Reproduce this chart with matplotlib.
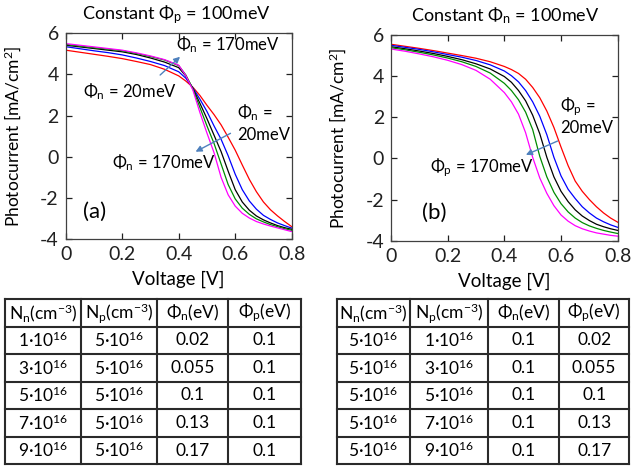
import matplotlib
matplotlib.use("Agg")
import matplotlib.pyplot as plt
from matplotlib.ticker import FuncFormatter

plt.rcParams['font.family'] = ['Lato', 'DejaVu Sans']
plt.rcParams['mathtext.fontset'] = 'custom'
plt.rcParams['mathtext.rm'] = 'Lato'
plt.rcParams['mathtext.it'] = 'Lato:italic'
plt.rcParams['mathtext.bf'] = 'Lato:bold'
plt.rcParams['axes.unicode_minus'] = False

# ---- data -------------------------------------------------------------
voltage = [0, 0.05, 0.1, 0.15, 0.2, 0.25, 0.3, 0.35, 0.4, 0.425, 0.45, 0.475,
           0.5, 0.525, 0.55, 0.575, 0.6, 0.625, 0.65, 0.675, 0.7, 0.725, 0.75,
           0.775, 0.8]

# (a) constant Phi_p = 100 meV, Phi_n varied
a_phin_20 = [5.18, 5.08, 4.98, 4.88, 4.77, 4.63, 4.48, 4.25, 3.93, 3.68, 3.38, 2.98,
             2.50, 2.05, 1.55, 0.95, 0.32, -0.40, -1.10, -1.70, -2.20, -2.58, -2.88,
             -3.15, -3.40]
a_phin_55 = [5.35, 5.25, 5.15, 5.06, 4.95, 4.80, 4.63, 4.43, 4.13, 3.82, 3.35, 2.80,
             2.20, 1.50, 0.85, 0.05, -0.85, -1.60, -2.15, -2.55, -2.85, -3.05, -3.22,
             -3.35, -3.47]
a_phin_100 = [5.42, 5.34, 5.26, 5.18, 5.10, 4.97, 4.80, 4.60, 4.33, 3.93, 3.32, 2.60,
              1.85, 1.05, 0.25, -0.70, -1.60, -2.20, -2.60, -2.88, -3.07, -3.22, -3.35,
              -3.45, -3.53]
a_phin_130 = [5.46, 5.38, 5.30, 5.23, 5.15, 5.02, 4.87, 4.70, 4.43, 3.98, 3.30, 2.40,
              1.50, 0.65, -0.35, -1.35, -2.05, -2.50, -2.80, -3.02, -3.17, -3.30, -3.40,
              -3.50, -3.58]
a_phin_170 = [5.50, 5.42, 5.34, 5.26, 5.18, 5.05, 4.90, 4.72, 4.45, 3.95, 3.25, 2.15,
              1.15, 0.20, -1.00, -1.85, -2.40, -2.75, -2.98, -3.15, -3.27, -3.37, -3.46,
              -3.55, -3.64]

# (b) constant Phi_n = 100 meV, Phi_p varied
b_phip_20 = [5.55, 5.45, 5.35, 5.24, 5.12, 5.00, 4.87, 4.70, 4.47, 4.32, 4.13, 3.85,
             3.45, 2.95, 2.30, 1.50, 0.55, -0.35, -1.10, -1.60, -2.00, -2.35, -2.65,
             -2.90, -3.10]
b_phip_55 = [5.50, 5.40, 5.30, 5.18, 5.05, 4.92, 4.76, 4.55, 4.25, 4.02, 3.72, 3.30,
             2.75, 2.05, 1.15, 0.05, -0.85, -1.50, -1.95, -2.35, -2.65, -2.90, -3.08,
             -3.23, -3.35]
b_phip_100 = [5.43, 5.33, 5.22, 5.10, 4.96, 4.80, 4.60, 4.35, 3.98, 3.70, 3.30, 2.80,
              2.10, 1.20, 0.05, -0.90, -1.60, -2.10, -2.50, -2.80, -3.02, -3.20, -3.32,
              -3.42, -3.50]
b_phip_130 = [5.38, 5.28, 5.16, 5.03, 4.88, 4.70, 4.47, 4.15, 3.65, 3.30, 2.85, 2.25,
              1.40, 0.10, -0.90, -1.65, -2.20, -2.60, -2.90, -3.12, -3.28, -3.40, -3.50,
              -3.58, -3.65]
b_phip_170 = [5.32, 5.21, 5.08, 4.94, 4.77, 4.56, 4.28, 3.85, 3.20, 2.75, 2.15, 1.25,
              0.05, -0.95, -1.70, -2.30, -2.75, -3.05, -3.27, -3.42, -3.53, -3.62, -3.68,
              -3.74, -3.78]

series_colors = ['#ff0000', '#0000ff', '#000000', '#008c00', '#ff00ff']

x_ticks = [0, 0.2, 0.4, 0.6, 0.8]
y_ticks = [-4, -2, 0, 2, 4, 6]

# table contents
table_header = [r"N$_\mathrm{n}$(cm$^{-3}$)", r"N$_\mathrm{p}$(cm$^{-3}$)",
                r"Φ$_\mathrm{n}$(eV)", r"Φ$_\mathrm{p}$(eV)"]
doping_varied = ["1", "3", "5", "7", "9"]
doping_fixed = ["5", "5", "5", "5", "5"]
phi_varied = ["0.02", "0.055", "0.1", "0.13", "0.17"]
phi_fixed = ["0.1", "0.1", "0.1", "0.1", "0.1"]

# ---- figure -----------------------------------------------------------
W, H = 631, 466
fig = plt.figure(figsize=(W / 100, H / 100), dpi=100)


def px_box(l, t, r, b):
    return [l / W, 1 - b / H, (r - l) / W, (b - t) / H]


def style_axes(ax):
    ax.set_xlim(0, 0.8)
    ax.set_ylim(-4, 6)
    ax.set_xticks(x_ticks)
    ax.set_yticks(y_ticks)
    ax.xaxis.set_major_formatter(FuncFormatter(lambda v, p: f"{v:g}"))
    ax.yaxis.set_major_formatter(FuncFormatter(lambda v, p: f"{v:g}"))
    ax.tick_params(direction='in', length=4, width=0.9, top=True, right=True,
                   labelsize=14, pad=5, colors='#202020')
    for sp in ax.spines.values():
        sp.set_color('#404040')
        sp.set_linewidth(0.9)
    ax.set_xlabel("Voltage [V]", fontsize=13.5)
    ax.set_ylabel(r"Photocurrent [mA/cm$^2$]", fontsize=12.5)
    ax.xaxis.set_label_coords(0.5, -0.155)
    ax.yaxis.set_label_coords(-0.19, 0.5)


arrow_kw = dict(arrowstyle='-|>', color='#4f81bd', lw=1.0, mutation_scale=9)
note_fs = 12

# panel (a)
ax_a = fig.add_axes(px_box(65.7, 33.3, 291.7, 239.0))
for ys, c in zip([a_phin_20, a_phin_55, a_phin_100, a_phin_130, a_phin_170], series_colors):
    ax_a.plot(voltage, ys, color=c, lw=0.9)
style_axes(ax_a)
ax_a.annotate("", xy=(0.412, 4.95), xytext=(0.327, 3.88), arrowprops=arrow_kw)
ax_a.annotate("", xy=(0.451, 0.18), xytext=(0.592, 1.2), arrowprops=arrow_kw)
ax_a.text(0.391, 5.43, r"Φ$_\mathrm{n}$ = 170meV", fontsize=note_fs, va='center', ha='left')
ax_a.text(0.061, 3.15, r"Φ$_\mathrm{n}$ = 20meV", fontsize=note_fs, va='center', ha='left')
ax_a.text(0.606, 2.12, r"Φ$_\mathrm{n}$ =", fontsize=note_fs, va='center', ha='left')
ax_a.text(0.606, 1.06, "20meV", fontsize=note_fs, va='center', ha='left')
ax_a.text(0.164, -0.30, r"Φ$_\mathrm{n}$ = 170meV", fontsize=note_fs, va='center', ha='left')
ax_a.text(0.062, -2.68, "(a)", fontsize=16, va='center', ha='left')
fig.text(176 / W, 1 - 15 / H, r"Constant Φ$_\mathrm{p}$ = 100meV", fontsize=13,
         ha='center', va='center')

# panel (b)
ax_b = fig.add_axes(px_box(391.0, 35.0, 617.7, 240.7))
for ys, c in zip([b_phip_20, b_phip_55, b_phip_100, b_phip_130, b_phip_170], series_colors):
    ax_b.plot(voltage, ys, color=c, lw=0.9)
style_axes(ax_b)
ax_b.annotate("", xy=(0.467, 0.12), xytext=(0.597, 0.9), arrowprops=arrow_kw)
ax_b.text(0.597, 2.5, r"Φ$_\mathrm{p}$ =", fontsize=note_fs, va='center', ha='left')
ax_b.text(0.597, 1.48, "20meV", fontsize=note_fs, va='center', ha='left')
ax_b.text(0.138, -0.47, r"Φ$_\mathrm{p}$ = 170meV", fontsize=note_fs, va='center', ha='left')
ax_b.text(0.109, -2.65, "(b)", fontsize=16, va='center', ha='left')
fig.text(505 / W, 1 - 16 / H, r"Constant Φ$_\mathrm{n}$ = 100meV", fontsize=13,
         ha='center', va='center')

# ---- tables -----------------------------------------------------------
tab = fig.add_axes([0, 0, 1, 1])
tab.set_xlim(0, W)
tab.set_ylim(H, 0)
tab.axis('off')

row_edges = [299, 326.7, 354, 381.7, 409.3, 436.7, 464.3]


def draw_table(col_edges, rows):
    for x in col_edges:
        tab.plot([x, x], [row_edges[0], row_edges[-1]], color='#2a2a2a', lw=1.5,
                 solid_capstyle='projecting')
    for y in row_edges:
        tab.plot([col_edges[0], col_edges[-1]], [y, y], color='#2a2a2a', lw=1.5,
                 solid_capstyle='projecting')
    for i, row in enumerate(rows):
        yc = (row_edges[i] + row_edges[i + 1]) / 2
        for j, txt in enumerate(row):
            xc = (col_edges[j] + col_edges[j + 1]) / 2
            tab.text(xc, yc, txt, ha='center', va='center', fontsize=12.5)


def power(m):
    return m + r"·10$^{16}$"


rows_a = [table_header] + [[power(n), power(p), fn, fp] for n, p, fn, fp in
                           zip(doping_varied, doping_fixed, phi_varied, phi_fixed)]
rows_b = [table_header] + [[power(n), power(p), fn, fp] for n, p, fn, fp in
                           zip(doping_fixed, doping_varied, phi_fixed, phi_varied)]

draw_table([5, 81, 156.7, 228.3, 301], rows_a)
draw_table([337.3, 410, 487.7, 559.3, 629], rows_b)

fig.savefig("out.png", dpi=100)
